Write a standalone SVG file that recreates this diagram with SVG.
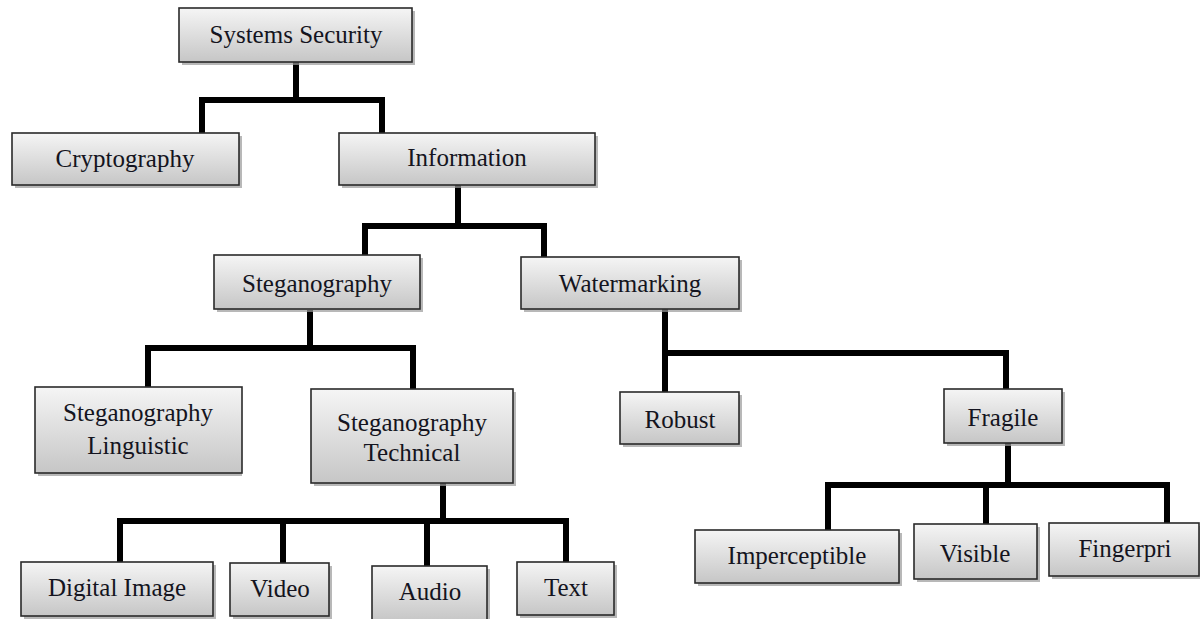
<svg xmlns="http://www.w3.org/2000/svg" width="1200" height="619" viewBox="0 0 1200 619">
<defs>
<linearGradient id="g" x1="0" y1="0" x2="0" y2="1">
<stop offset="0" stop-color="#f5f5f5"/>
<stop offset="1" stop-color="#c6c6c6"/>
</linearGradient>
<style>
.box{fill:url(#g);stroke:#2a2a2a;stroke-width:1.6}
.sh{fill:#9a9a9a;opacity:0.7}
.t{font-family:"Liberation Serif","Times New Roman",serif;font-size:25px;fill:#141420;text-anchor:middle}
.c{fill:none;stroke:#000;stroke-width:6;stroke-linejoin:miter;stroke-linecap:butt}
</style>
</defs>
<rect width="1200" height="619" fill="#fff"/>
<g id="connectors">
<path class="c" d="M296 62 V100 M202 133 V100 H382 V133"/>
<path class="c" d="M458 185 V226 M365 257 V226 H544 V257"/>
<path class="c" d="M310 310 V348 M148 387 V348 H413 V390"/>
<path class="c" d="M665 309 V392 M665 353 H1006 V389"/>
<path class="c" d="M443 483 V521 M120 562 V521 H566 V562 M283 521 V563 M427 521 V566"/>
<path class="c" d="M1008 443 V485 M828 530 V485 H1167 V523 M986 485 V525"/>
</g>
<g id="n-systems-security"><rect class="sh" x="182" y="11" width="233" height="54"/><rect class="box" x="179" y="8" width="233" height="54"/><text class="t" x="296" y="43">Systems Security</text></g>
<g id="n-cryptography"><rect class="sh" x="15" y="136" width="227" height="52"/><rect class="box" x="12" y="133" width="227" height="52"/><text class="t" x="125" y="167">Cryptography</text></g>
<g id="n-information"><rect class="sh" x="342" y="136" width="256" height="52"/><rect class="box" x="339" y="133" width="256" height="52"/><text class="t" x="467" y="166">Information</text></g>
<g id="n-steganography"><rect class="sh" x="217" y="258" width="206" height="54"/><rect class="box" x="214" y="255" width="206" height="54"/><text class="t" x="317" y="292">Steganography</text></g>
<g id="n-watermarking"><rect class="sh" x="524" y="260" width="218" height="52"/><rect class="box" x="521" y="257" width="218" height="52"/><text class="t" x="630" y="292">Watermarking</text></g>
<g id="n-steg-linguistic"><rect class="sh" x="38" y="390" width="204" height="86"/><rect class="box" x="35" y="387" width="207" height="86"/><text class="t" x="138" y="421">Steganography</text><text class="t" x="138" y="454">Linguistic</text></g>
<g id="n-steg-technical"><rect class="sh" x="314" y="392" width="202" height="94"/><rect class="box" x="311" y="389" width="202" height="94"/><text class="t" x="412" y="431">Steganography</text><text class="t" x="412" y="461">Technical</text></g>
<g id="n-robust"><rect class="sh" x="623" y="395" width="119" height="52"/><rect class="box" x="620" y="392" width="119" height="52"/><text class="t" x="680" y="428">Robust</text></g>
<g id="n-fragile"><rect class="sh" x="947" y="392" width="118" height="54"/><rect class="box" x="944" y="389" width="118" height="54"/><text class="t" x="1003" y="426">Fragile</text></g>
<g id="n-digital-image"><rect class="sh" x="24" y="565" width="192" height="54"/><rect class="box" x="21" y="562" width="192" height="54"/><text class="t" x="117" y="596">Digital Image</text></g>
<g id="n-video"><rect class="sh" x="233" y="566" width="99" height="53"/><rect class="box" x="230" y="563" width="99" height="53"/><text class="t" x="280" y="597">Video</text></g>
<g id="n-audio"><rect class="sh" x="375" y="569" width="115" height="53"/><rect class="box" x="372" y="566" width="115" height="55"/><text class="t" x="430" y="600">Audio</text></g>
<g id="n-text"><rect class="sh" x="520" y="565" width="97" height="53"/><rect class="box" x="517" y="562" width="97" height="53"/><text class="t" x="566" y="596">Text</text></g>
<g id="n-imperceptible"><rect class="sh" x="698" y="533" width="204" height="53"/><rect class="box" x="695" y="530" width="204" height="53"/><text class="t" x="797" y="564">Imperceptible</text></g>
<g id="n-visible"><rect class="sh" x="917" y="527" width="123" height="55"/><rect class="box" x="914" y="524" width="123" height="55"/><text class="t" x="975" y="562">Visible</text></g>
<g id="n-fingerpri"><rect class="sh" x="1052" y="526" width="150" height="53"/><rect class="box" x="1049" y="523" width="150" height="53"/><text class="t" x="1125" y="557">Fingerpri</text></g>
</svg>
